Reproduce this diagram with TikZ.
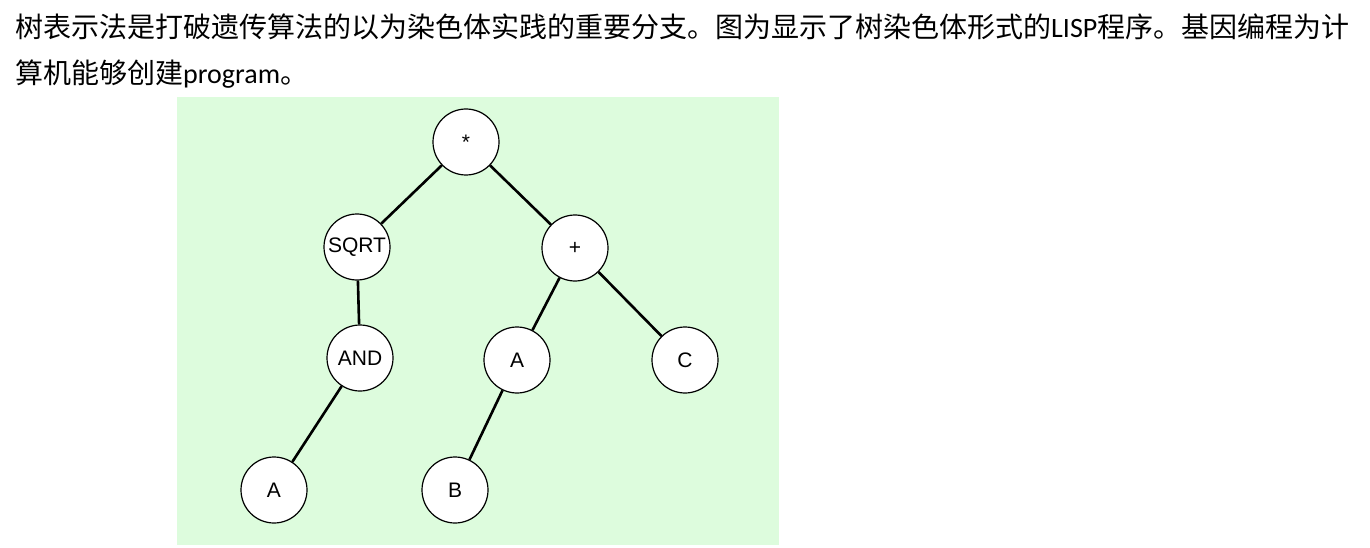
\documentclass[tikz,border=0pt]{standalone}
\usepackage{fontspec}
\setmainfont{Carlito}
\newfontfamily\cjk{Noto Sans CJK SC}
\newfontfamily\arial{Liberation Sans}
\begin{document}
\begin{tikzpicture}[x=1pt,y=-1pt,
  tn/.style={circle,draw=black,line width=1.2pt,fill=white,minimum size=66pt,inner sep=0pt,font=\arial\fontsize{21}{21}\selectfont},
  ed/.style={line width=2.6pt}]
\useasboundingbox (0,0) rectangle (1370,548);
\fill[fill={rgb,255:red,221;green,252;blue,221}] (177,97) rectangle (779,545);
\node[anchor=base west,inner sep=0pt,font=\fontsize{28}{28}\selectfont] (l1) at (15,38) {{\cjk 树表示法是打破遗传算法的以为染色体实践的重要分支。图为显示了树染色体形式的}LISP{\cjk 程序。基因编程为计}};
\node[anchor=base west,inner sep=0pt,font=\fontsize{28}{28}\selectfont] (l2) at (15,84) {{\cjk 算机能够创建}program{\cjk 。}};
\node[tn] (r) at (466,142) {*};
\node[tn] (s) at (357,247) {SQRT};
\node[tn] (p) at (575,248) {+};
\node[tn] (and) at (360,358) {AND};
\node[tn] (a2) at (517,360) {A};
\node[tn] (c) at (685,360) {C};
\node[tn] (a1) at (274,490) {A};
\node[tn] (b) at (455,490) {B};
\draw[ed] (r) -- (s); \draw[ed] (r) -- (p);
\draw[ed] (s) -- (and); \draw[ed] (p) -- (a2); \draw[ed] (p) -- (c);
\draw[ed] (and) -- (a1); \draw[ed] (a2) -- (b);
\end{tikzpicture}
\end{document}
